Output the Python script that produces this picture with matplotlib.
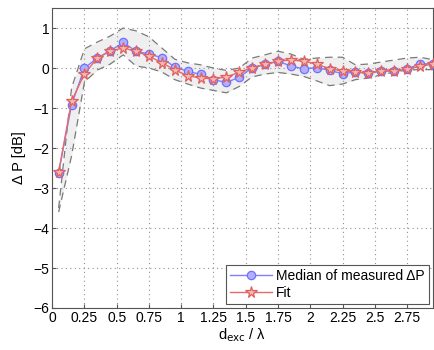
import matplotlib
matplotlib.use("Agg")
import matplotlib.pyplot as plt

plt.rcParams['font.family'] = ['Liberation Sans', 'DejaVu Sans']

d_over_lambda = [0.05, 0.15, 0.25, 0.35, 0.45, 0.55, 0.65, 0.75, 0.85, 0.95,
                 1.05, 1.15, 1.25, 1.35, 1.45, 1.55, 1.65, 1.75, 1.85, 1.95,
                 2.05, 2.15, 2.25, 2.35, 2.45, 2.55, 2.65, 2.75, 2.85, 2.95]
median_dp = [-2.62, -0.92, 0.0, 0.25, 0.43, 0.64, 0.42, 0.35, 0.26, 0.02,
             -0.08, -0.16, -0.29, -0.36, -0.23, 0.01, 0.09, 0.17, 0.05, -0.02,
             0.01, -0.06, -0.14, -0.10, -0.13, -0.07, -0.08, -0.03, 0.11, 0.10]
fit_dp = [-2.60, -0.83, -0.14, 0.25, 0.43, 0.50, 0.42, 0.30, 0.13, -0.04,
          -0.20, -0.24, -0.28, -0.22, -0.11, 0.01, 0.09, 0.17, 0.20, 0.17,
          0.10, -0.02, -0.07, -0.10, -0.13, -0.07, -0.08, -0.03, 0.04, 0.10]
upper_dp = [-3.5, -0.5, 0.48, 0.65, 0.80, 1.0, 0.93, 0.78, 0.50, 0.22,
            0.13, 0.08, 0.0, -0.06, 0.0, 0.25, 0.33, 0.42, 0.35, 0.22,
            0.25, 0.27, 0.27, 0.08, 0.10, 0.15, 0.20, 0.25, 0.27, 0.21]
lower_dp = [-3.6, -2.2, -0.35, -0.05, 0.10, 0.33, 0.05, 0.0, -0.10, -0.29,
            -0.40, -0.50, -0.56, -0.62, -0.46, -0.22, -0.15, -0.11, -0.15, -0.21,
            -0.32, -0.44, -0.40, -0.29, -0.25, -0.17, -0.10, -0.05, -0.04, -0.04]

xticks = [0, 0.25, 0.5, 0.75, 1, 1.25, 1.5, 1.75, 2, 2.25, 2.5, 2.75]
xtick_labels = ['0', '0.25', '0.5', '0.75', '1', '1.25', '1.5', '1.75', '2',
                '2.25', '2.5', '2.75']
yticks = [-6, -5, -4, -3, -2, -1, 0, 1]

fig = plt.figure(figsize=(4.35, 3.5), dpi=100)
ax = fig.add_axes([0.12, 0.12, 0.875, 0.857])

ax.fill_between(d_over_lambda, lower_dp, upper_dp, color='#efefef', lw=0, zorder=1)
ax.plot(d_over_lambda, upper_dp, color='#7a7a7a', ls=(0, (6, 4)), lw=0.9, zorder=2)
ax.plot(d_over_lambda, lower_dp, color='#7a7a7a', ls=(0, (6, 4)), lw=0.9, zorder=2)

ax.plot(d_over_lambda, median_dp, color='#7f7fff', lw=1.0, marker='o', ms=6,
        mfc='#b0b0ff', mec='#7070ff', mew=0.9, zorder=3,
        label='Median of measured ΔP')
ax.plot(d_over_lambda, fit_dp, color='#e86a6a', lw=1.0, marker='*', ms=8.5,
        mfc='#f4b8b0', mec='#e06060', mew=0.9, zorder=4, label='Fit')

ax.set_xlim(0, 2.95)
ax.set_ylim(-6, 1.5)
ax.set_xticks(xticks)
ax.set_xticklabels(xtick_labels)
ax.set_yticks(yticks)
ax.grid(True, ls=(0, (1, 3)), color='#909090', lw=0.8)
ax.tick_params(labelsize=10, direction='in', length=3, color='#555555', pad=2)
for s in ax.spines.values():
    s.set_color('#555555')
    s.set_linewidth(0.8)

ax.set_xlabel(r'd$_{\rm exc}$ / λ', fontsize=10.5, labelpad=1)
ax.set_ylabel('Δ P [dB]', fontsize=10.5)
ax.yaxis.set_label_coords(-0.07, 0.5)

leg = ax.legend(loc='lower right', fontsize=10, fancybox=False, framealpha=1,
                edgecolor='#555555', borderaxespad=0.3, handlelength=3,
                borderpad=0.3, labelspacing=0.2, handletextpad=0.3)
leg.get_frame().set_linewidth(0.8)

fig.savefig('out.png', dpi=100)
